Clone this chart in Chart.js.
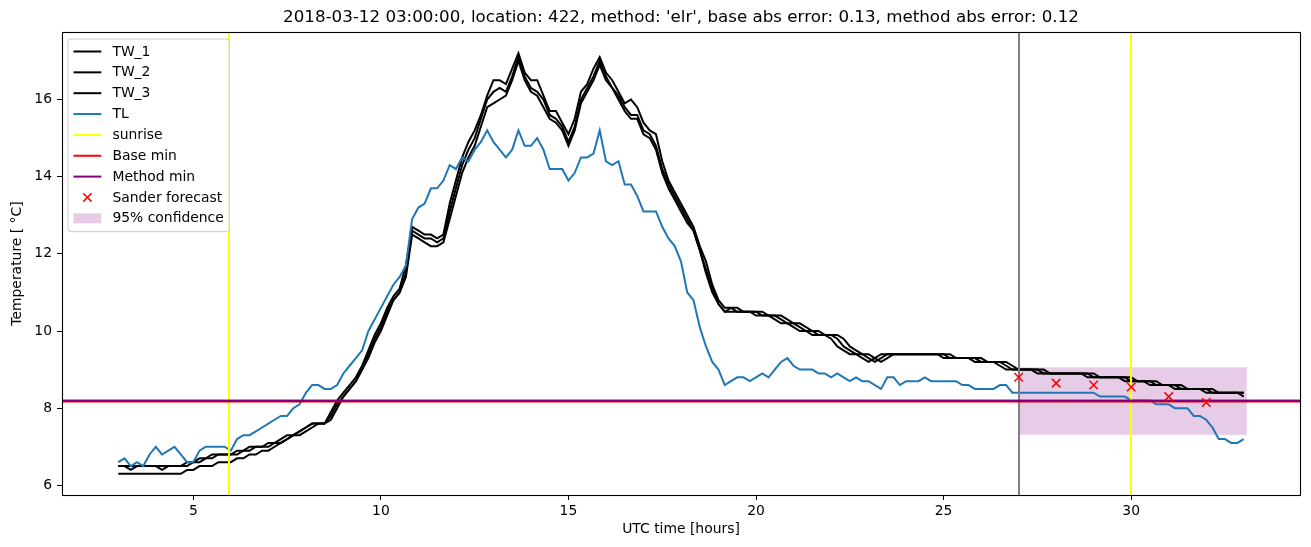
<!DOCTYPE html>
<html><head><meta charset="utf-8">
<script src="https://cdn.jsdelivr.net/npm/chart.js@4.4.1/dist/chart.umd.min.js"></script>
<style>html,body{margin:0;padding:0;background:#fff;}canvas{display:block;}</style>
</head><body>
<canvas id="c" width="1311" height="547"></canvas>
<script>
const chartTitle = "2018-03-12 03:00:00, location: 422, method: 'elr', base abs error: 0.13, method abs error: 0.12";
const startHour = 3;
const stepHours = 1 / 6; // 10-minute samples

const TL = [
6.6,6.7,6.5,6.6,6.5,6.8,7.0,6.8,6.9,7.0,
6.8,6.6,6.6,6.9,7.0,7.0,7.0,7.0,6.9,7.2,
7.3,7.3,7.4,7.5,7.6,7.7,7.8,7.8,8.0,8.1,
8.4,8.6,8.6,8.5,8.5,8.6,8.9,9.1,9.3,9.5,
10.0,10.3,10.6,10.9,11.2,11.4,11.7,12.9,13.2,13.3,
13.7,13.7,13.9,14.3,14.2,14.5,14.4,14.7,14.9,15.2,
14.9,14.7,14.5,14.7,15.2,14.8,14.8,15.0,14.7,14.2,
14.2,14.2,13.9,14.1,14.5,14.5,14.6,15.2,14.4,14.3,
14.4,13.8,13.8,13.5,13.1,13.1,13.1,12.7,12.4,12.2,
11.8,11.0,10.8,10.1,9.6,9.2,9.0,8.6,8.7,8.8,
8.8,8.7,8.8,8.9,8.8,9.0,9.2,9.3,9.1,9.0,
9.0,9.0,8.9,8.9,8.8,8.9,8.8,8.7,8.8,8.7,
8.7,8.6,8.5,8.8,8.8,8.6,8.7,8.7,8.7,8.8,
8.7,8.7,8.7,8.7,8.7,8.6,8.6,8.5,8.5,8.5,
8.5,8.6,8.6,8.4,8.4,8.4,8.4,8.4,8.4,8.4,
8.4,8.4,8.4,8.4,8.4,8.4,8.4,8.3,8.3,8.3,
8.3,8.3,8.2,8.2,8.2,8.2,8.1,8.1,8.1,8.0,
8.0,8.0,7.8,7.8,7.7,7.5,7.2,7.2,7.1,7.1,7.2
];

const TW_1 = [
6.5,6.5,6.5,6.5,6.5,6.5,6.5,6.5,6.5,6.5,6.5,
6.6,6.6,6.7,6.7,6.8,6.8,6.8,6.8,6.9,6.9,7.0,7.0,7.0,7.1,7.1,7.2,7.3,7.3,7.4,7.5,7.6,7.6,7.6,
7.9,8.2,8.4,8.6,8.8,9.1,9.5,9.9,10.2,10.6,10.9,11.1,11.7,
12.7,12.6,12.5,12.5,12.4,12.5,
13.3,13.9,14.5,14.9,15.2,15.6,16.1,
16.5,16.5,16.4,16.8,17.2,16.7,16.5,16.5,16.1,15.7,
15.7,15.4,15.1,15.5,16.2,16.4,16.8,17.1,16.7,16.5,
16.2,15.9,16.0,15.8,15.4,15.2,15.1,14.4,13.9,13.6,
13.3,13.0,12.7,12.2,11.8,11.2,10.8,10.6,
10.6,10.6,10.5,10.5,10.5,10.5,10.4,10.4,10.4,10.3,10.2,10.2,10.1,10.0,10.0,9.9,9.9,9.9,9.8,9.6,9.5,9.4,9.4,9.3,9.2,9.3,
9.4,9.4,9.4,9.4,9.4,9.4,9.4,9.4,9.4,9.4,
9.3,9.3,9.3,9.3,9.3,9.2,9.2,9.2,9.2,9.1,
9.0,9.0,9.0,9.0,9.0,8.9,8.9,8.9,8.9,8.9,8.9,8.9,8.9,
8.8,8.8,8.8,8.8,8.8,8.8,8.7,8.7,8.7,8.7,8.6,8.6,8.6,8.6,
8.5,8.5,8.5,8.5,8.5,8.4,8.4,8.4,8.4,8.4
];

const TW_2 = [
6.5,6.5,6.4,6.5,6.5,6.5,6.5,6.4,6.5,6.5,6.5,
6.5,6.6,6.6,6.7,6.7,6.8,6.8,6.8,6.8,6.9,6.9,7.0,7.0,7.0,7.1,7.1,7.2,7.3,7.3,7.4,7.5,7.6,7.6,
7.8,8.1,8.3,8.5,8.7,9.0,9.4,9.8,10.1,10.5,10.8,11.0,11.5,
12.6,12.5,12.4,12.4,12.3,12.4,
13.1,13.7,14.3,14.7,15.0,15.5,16.0,
16.2,16.3,16.2,16.6,17.1,16.6,16.3,16.2,16.0,15.6,
15.5,15.3,14.9,15.3,16.0,16.3,16.6,17.0,16.6,16.3,
16.1,15.8,15.6,15.6,15.2,15.1,14.8,14.2,13.8,13.5,
13.2,12.9,12.6,12.1,11.6,11.1,10.7,10.5,
10.6,10.5,10.5,10.5,10.5,10.4,10.4,10.4,10.3,10.2,10.2,10.1,10.0,10.0,9.9,9.9,9.9,9.8,9.6,9.5,9.4,9.4,9.3,9.2,9.3,
9.4,9.4,9.4,9.4,9.4,9.4,9.4,9.4,9.4,9.4,
9.3,9.3,9.3,9.3,9.3,9.2,9.2,9.2,9.2,9.1,
9.0,9.0,9.0,9.0,9.0,8.9,8.9,8.9,8.9,8.9,8.9,8.9,8.9,
8.8,8.8,8.8,8.8,8.8,8.8,8.7,8.7,8.7,8.7,8.6,8.6,8.6,8.6,
8.5,8.5,8.5,8.5,8.5,8.4,8.4,8.4,8.4,8.4,8.4
];

const TW_3 = [
6.3,6.3,6.3,6.3,6.3,6.3,6.3,6.3,6.3,6.3,6.3,
6.4,6.4,6.5,6.5,6.5,6.6,6.6,6.6,6.7,6.7,6.8,6.8,6.9,6.9,7.0,7.1,7.2,7.3,7.4,7.5,7.6,7.6,7.6,
7.7,8.0,8.3,8.5,8.7,9.0,9.3,9.7,10.0,10.4,10.8,11.0,11.4,
12.5,12.4,12.3,12.2,12.2,12.3,
12.9,13.5,14.1,14.5,14.8,15.3,15.8,
15.9,16.0,16.1,16.5,17.0,16.5,16.2,16.1,15.8,15.5,
15.4,15.2,14.8,15.2,15.9,16.2,16.5,16.9,16.5,16.3,
16.0,15.7,15.5,15.5,15.1,15.0,14.7,14.1,13.7,13.4,
13.1,12.8,12.6,12.1,11.5,11.0,10.7,10.5,
10.5,10.5,10.5,10.5,10.4,10.4,10.4,10.3,10.2,10.2,10.1,10.0,10.0,9.9,9.9,9.9,9.8,9.6,9.5,9.4,9.4,9.3,9.2,9.3,
9.4,9.4,9.4,9.4,9.4,9.4,9.4,9.4,9.4,9.4,
9.3,9.3,9.3,9.3,9.3,9.2,9.2,9.2,9.2,9.1,
9.0,9.0,9.0,9.0,9.0,8.9,8.9,8.9,8.9,8.9,8.9,8.9,8.9,
8.8,8.8,8.8,8.8,8.8,8.8,8.7,8.7,8.7,8.7,8.6,8.6,8.6,8.6,
8.5,8.5,8.5,8.5,8.5,8.4,8.4,8.4,8.4,8.4,8.4,8.3,8.4
];

const forecastHours = [27, 28, 29, 30, 31, 32];
const forecastValues = [8.8, 8.65, 8.6, 8.55, 8.3, 8.15];
const sunriseHours = [5.96, 29.99];
const forecastStartHour = 27;
const baseMin = 8.18;
const methodMin = 8.18;
const bandHours = [27, 33.08];
const bandLow = 7.31;
const bandHigh = 9.06;
const xTicks = [5, 10, 15, 20, 25, 30];
const yTicks = [6, 8, 10, 12, 14, 16];
const xRange = [1.5, 34.5];
const yRange = [5.75, 17.75];

const times = TL.map((_, i) => startHour + i * stepHours);
const pts = vals => vals.map((v, i) => ({x: times[i], y: v}));

const COL = {tw: '#000000', tl: '#1f77b4', sunrise: '#ffff00', base: '#ff0000', method: '#800080', gray: '#808080', band: 'rgba(128,0,128,0.2)'};
const FONT = 'DejaVu Sans';

Chart.defaults.font.family = FONT;
Chart.defaults.font.size = 13.9;
Chart.defaults.color = '#000';

const bgPlugin = {id: 'bg', beforeDraw(c) {const x = c.ctx; x.save(); x.fillStyle = '#fff'; x.fillRect(0, 0, c.width, c.height); x.restore();}};

const bandPlugin = {id: 'band', beforeDatasetsDraw(c) {
  const {ctx, scales: {x, y}} = c;
  const x0 = x.getPixelForValue(bandHours[0]), x1 = x.getPixelForValue(bandHours[1]);
  const y0 = y.getPixelForValue(bandHigh), y1 = y.getPixelForValue(bandLow);
  ctx.save(); ctx.fillStyle = COL.band; ctx.fillRect(x0, y0, x1 - x0, y1 - y0); ctx.restore();
}};

const refPlugin = {id: 'refs', afterDatasetDraw(c, args) {
  if (c.data.datasets[args.index].label !== 'TL') return;
  const {ctx, chartArea: a, scales: {x, y}} = c;
  ctx.save();
  ctx.beginPath(); ctx.rect(a.left, a.top, a.right - a.left, a.bottom - a.top); ctx.clip();
  const vline = (v, col, w) => {const p = Math.round(x.getPixelForValue(v)); ctx.strokeStyle = col; ctx.lineWidth = w; ctx.beginPath(); ctx.moveTo(p, a.top); ctx.lineTo(p, a.bottom); ctx.stroke();};
  const hline = (v, col, w) => {const p = Math.round(y.getPixelForValue(v)); ctx.strokeStyle = col; ctx.lineWidth = w; ctx.beginPath(); ctx.moveTo(a.left, p); ctx.lineTo(a.right, p); ctx.stroke();};
  vline(forecastStartHour, COL.gray, 2);
  sunriseHours.forEach(h => vline(h, COL.sunrise, 2));
  hline(baseMin, COL.base, 3);
  hline(methodMin, COL.method, 2);
  ctx.restore();
}};

const framePlugin = {id: 'frame', afterDraw(c) {
  const {ctx, chartArea: a} = c;
  ctx.save();
  ctx.strokeStyle = '#000'; ctx.lineWidth = 1.1;
  ctx.strokeRect(Math.round(a.left) + 0.5, Math.round(a.top) + 0.5, Math.round(a.right - a.left), Math.round(a.bottom - a.top));
  // title
  ctx.fillStyle = '#000'; ctx.font = '16.7px "' + FONT + '"'; ctx.textAlign = 'center'; ctx.textBaseline = 'middle';
  ctx.fillText(chartTitle, (a.left + a.right) / 2, 18);
  // legend
  const items = [
    {label: 'TW_1', kind: 'line', color: COL.tw},
    {label: 'TW_2', kind: 'line', color: COL.tw},
    {label: 'TW_3', kind: 'line', color: COL.tw},
    {label: 'TL', kind: 'line', color: COL.tl},
    {label: 'sunrise', kind: 'line', color: COL.sunrise},
    {label: 'Base min', kind: 'line', color: COL.base},
    {label: 'Method min', kind: 'line', color: COL.method},
    {label: 'Sander forecast', kind: 'marker', color: COL.base},
    {label: '95% confidence', kind: 'patch', color: COL.band}
  ];
  ctx.font = '13.9px "' + FONT + '"';
  const maxW = Math.max(...items.map(i => ctx.measureText(i.label).width));
  const bx = a.left + 6, by = a.top + 7, rowH = 20.85;
  const hx0 = bx + 5.5, hx1 = hx0 + 27.8, tx = hx1 + 11.1;
  const bw = tx + maxW + 5.5 - bx, bh = items.length * rowH + 5;
  ctx.beginPath();
  const r = 3;
  ctx.moveTo(bx + r, by); ctx.lineTo(bx + bw - r, by); ctx.quadraticCurveTo(bx + bw, by, bx + bw, by + r);
  ctx.lineTo(bx + bw, by + bh - r); ctx.quadraticCurveTo(bx + bw, by + bh, bx + bw - r, by + bh);
  ctx.lineTo(bx + r, by + bh); ctx.quadraticCurveTo(bx, by + bh, bx, by + bh - r);
  ctx.lineTo(bx, by + r); ctx.quadraticCurveTo(bx, by, bx + r, by); ctx.closePath();
  ctx.fillStyle = 'rgba(255,255,255,0.8)'; ctx.fill();
  ctx.strokeStyle = '#cccccc'; ctx.lineWidth = 1; ctx.stroke();
  items.forEach((it, k) => {
    const yy = by + 12.5 + k * rowH;
    if (it.kind === 'line') {
      ctx.strokeStyle = it.color; ctx.lineWidth = 2; ctx.beginPath(); ctx.moveTo(hx0, yy); ctx.lineTo(hx1, yy); ctx.stroke();
    } else if (it.kind === 'marker') {
      const cx = (hx0 + hx1) / 2, s = 4.2;
      ctx.strokeStyle = it.color; ctx.lineWidth = 1.5; ctx.beginPath();
      ctx.moveTo(cx - s, yy - s); ctx.lineTo(cx + s, yy + s); ctx.moveTo(cx - s, yy + s); ctx.lineTo(cx + s, yy - s); ctx.stroke();
    } else {
      ctx.fillStyle = it.color; ctx.fillRect(hx0, yy - 5, hx1 - hx0, 10);
    }
    ctx.fillStyle = '#000'; ctx.textAlign = 'left'; ctx.textBaseline = 'middle';
    ctx.fillText(it.label, tx, yy + 0.5);
  });
  ctx.restore();
}};

const lineDs = (label, vals, color, order) => ({label, data: pts(vals), borderColor: color, backgroundColor: color, borderWidth: 2, pointRadius: 0, tension: 0, fill: false, order});

new Chart(document.getElementById('c'), {
  type: 'line',
  data: {datasets: [
    lineDs('TW_1', TW_1, COL.tw, 5),
    lineDs('TW_2', TW_2, COL.tw, 4),
    lineDs('TW_3', TW_3, COL.tw, 3),
    lineDs('TL', TL, COL.tl, 2),
    {label: 'Sander forecast', data: forecastHours.map((h, i) => ({x: h, y: forecastValues[i]})), showLine: false,
     pointStyle: 'crossRot', pointRadius: 6, pointHoverRadius: 6, borderColor: COL.base, backgroundColor: COL.base, borderWidth: 1.5, order: 0}
  ]},
  options: {
    responsive: false, animation: false, devicePixelRatio: 1,
    layout: {padding: {top: 32, right: 11, bottom: 0, left: 0}},
    plugins: {legend: {display: false}, title: {display: false}, tooltip: {enabled: false}},
    events: [],
    scales: {
      x: {type: 'linear', min: xRange[0], max: xRange[1],
        afterBuildTicks: s => { s.ticks = xTicks.map(v => ({value: v})); },
        afterFit: s => { s.height = 52; },
        ticks: {padding: 3, autoSkip: false, maxRotation: 0, color: '#000', callback: v => String(v)},
        grid: {drawOnChartArea: false, drawTicks: true, tickLength: 5, color: '#000', lineWidth: 1},
        border: {display: false},
        title: {display: true, text: 'UTC time [hours]', color: '#000', padding: {top: 0, bottom: 9}}},
      y: {type: 'linear', min: yRange[0], max: yRange[1],
        afterBuildTicks: s => { s.ticks = yTicks.map(v => ({value: v})); },
        afterFit: s => { s.width = 62; },
        ticks: {padding: 5, autoSkip: false, color: '#000', callback: v => String(v)},
        grid: {drawOnChartArea: false, drawTicks: true, tickLength: 5, color: '#000', lineWidth: 1},
        border: {display: false},
        title: {display: true, text: 'Temperature [ °C]', color: '#000', padding: {top: 9, bottom: 0}}}
    }
  },
  plugins: [bgPlugin, bandPlugin, refPlugin, framePlugin]
});
</script>
</body></html>
